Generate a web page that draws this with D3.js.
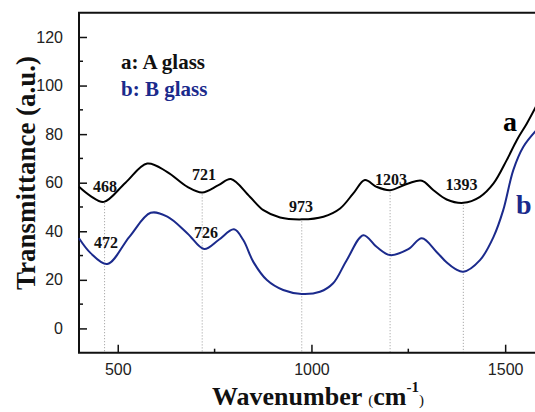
<!DOCTYPE html>
<html>
<head>
<meta charset="utf-8">
<script src="https://cdn.jsdelivr.net/npm/d3@7.9.0/dist/d3.min.js"></script>
<style>
  body { margin: 0; background: #fff; }
  svg { display: block; }
  .tick text { font-family: "Liberation Sans", Arial, sans-serif; font-size: 16px; fill: #222; }
  .serif { font-family: "Liberation Serif", "Times New Roman", serif; font-weight: bold; }
</style>
</head>
<body>
<svg width="535" height="412"></svg>
<script>
// sample A glass (curve a)
const waveA = [400, 430, 464, 520, 576, 627, 680, 718, 760, 792, 841, 876, 919, 975, 1031, 1074, 1108, 1138, 1168, 1203, 1250, 1285, 1315, 1349, 1392, 1435, 1470, 1504, 1530, 1556, 1580];
const transA = [58.3, 54.5, 52.1, 60, 67.9, 64.5, 58.3, 56, 59, 61.5, 54.2, 48.7, 45.7, 44.9, 46, 49.4, 55.6, 61.1, 58.3, 56.9, 59.7, 60.8, 56.9, 53.1, 51.7, 54.2, 59.7, 69.3, 77.5, 84.4, 91.5];
// sample B glass (curve b)
const waveB = [400, 430, 473, 530, 585, 628, 680, 723, 760, 800, 824, 850, 885, 927, 975, 1022, 1056, 1091, 1134, 1168, 1203, 1250, 1285, 1323, 1350, 1372, 1392, 1435, 1470, 1495, 1521, 1547, 1580];
const transB = [37.1, 31, 26.5, 37.7, 47.6, 46, 39.1, 32.7, 36.4, 40.8, 36.4, 27.4, 19.9, 15.8, 14.2, 15.1, 18.6, 28.1, 38.4, 33.6, 30.2, 32.6, 37.1, 31.5, 27, 24.4, 23.3, 28.1, 37.7, 48.7, 65.2, 74.8, 81.5];

// band labels
const bandA = ['468', '721', '973', '1203', '1393'];
const bandB = ['472', '726'];
const bandLines = [466, 718, 975, 1203, 1392];

const xTicks = [500, 1000, 1500];
const yTicks = [0, 20, 40, 60, 80, 100, 120];

const svg = d3.select('svg');
const blue = '#1b2a8c';

const x = d3.scaleLinear().domain([400, 1600]).range([79, 543.9]);
const y = d3.scaleLinear().domain([-10, 130]).range([352.7, 12.7]);

const seriesA = waveA.map((w, i) => [w, transA[i]]);
const seriesB = waveB.map((w, i) => [w, transB[i]]);

const line = d3.line()
    .x(d => x(d[0]))
    .y(d => y(d[1]))
    .curve(d3.curveCatmullRom.alpha(0.5));

// value of curve a at a wavenumber (for dotted line tops)
const aAt = d3.scaleLinear().domain(waveA).range(transA);

// dotted guide lines
svg.selectAll('.guide')
    .data(bandLines)
    .join('line')
    .attr('x1', d => x(d)).attr('x2', d => x(d))
    .attr('y1', d => y(aAt(d)) + 2)
    .attr('y2', y(-10))
    .attr('stroke', '#999')
    .attr('stroke-width', 1)
    .attr('stroke-dasharray', '1,2');

// axes
const xAxis = d3.axisBottom(x).tickValues(xTicks).tickSize(-8).tickPadding(11).tickFormat(d3.format('d'));
const gx = svg.append('g').attr('transform', `translate(0,${y(-10)})`).call(xAxis);
gx.select('.domain').remove();
gx.selectAll('.tick line').attr('stroke', '#111').attr('stroke-width', 1.5);
svg.append('g').attr('transform', `translate(0,${y(-10)})`)
  .selectAll('line').data([750, 1250]).join('line')
  .attr('x1', d => x(d)).attr('x2', d => x(d)).attr('y1', 0).attr('y2', -4)
  .attr('stroke', '#111').attr('stroke-width', 1.5);

const yAxis = d3.axisLeft(y).tickValues(yTicks).tickSize(-8).tickPadding(16);
const gy = svg.append('g').attr('transform', `translate(${x(400)},0)`).call(yAxis);
gy.select('.domain').remove();
gy.selectAll('.tick line').attr('stroke', '#111').attr('stroke-width', 1.5);
svg.append('g').attr('transform', `translate(${x(400)},0)`)
  .selectAll('line').data([10, 30, 50, 70, 90, 110]).join('line')
  .attr('y1', d => y(d)).attr('y2', d => y(d)).attr('x1', 0).attr('x2', 4)
  .attr('stroke', '#111').attr('stroke-width', 1.5);

// frame (left, bottom, top)
svg.append('path')
    .attr('d', `M535,${y(130)}H${x(400)}V${y(-10)}H535`)
    .attr('fill', 'none').attr('stroke', '#111').attr('stroke-width', 2);

// curves
svg.append('path').datum(seriesA).attr('d', line)
    .attr('fill', 'none').attr('stroke', '#000').attr('stroke-width', 2);
svg.append('path').datum(seriesB).attr('d', line)
    .attr('fill', 'none').attr('stroke', blue).attr('stroke-width', 2);

// band labels
const labelPosA = [[105, 191.5], [204, 180], [301, 212], [391, 185], [461.5, 190]];
const labelPosB = [[106, 248], [206, 238]];
svg.selectAll('.la').data(bandA).join('text')
    .attr('class', 'serif')
    .attr('x', (d, i) => labelPosA[i][0]).attr('y', (d, i) => labelPosA[i][1])
    .attr('text-anchor', 'middle').attr('font-size', 16).attr('fill', '#111')
    .text(d => d);
svg.selectAll('.lb').data(bandB).join('text')
    .attr('class', 'serif')
    .attr('x', (d, i) => labelPosB[i][0]).attr('y', (d, i) => labelPosB[i][1])
    .attr('text-anchor', 'middle').attr('font-size', 16).attr('fill', '#111')
    .text(d => d);

// legend
svg.append('text').attr('class', 'serif').attr('x', 121).attr('y', 69)
    .attr('font-size', 21).attr('fill', '#111').text('a: A glass');
svg.append('text').attr('class', 'serif').attr('x', 121).attr('y', 96)
    .attr('font-size', 21).attr('fill', blue).text('b: B glass');

// curve letters
svg.append('text').attr('class', 'serif').attr('x', 503).attr('y', 131)
    .attr('font-size', 28).attr('fill', '#000').text('a');
svg.append('text').attr('class', 'serif').attr('x', 516).attr('y', 214)
    .attr('font-size', 28).attr('fill', blue).text('b');

// axis titles
const xt = svg.append('text').attr('class', 'serif').attr('x', 212).attr('y', 405)
    .attr('font-size', 26).attr('fill', '#111');
xt.append('tspan').text('Wavenumber ');
xt.append('tspan').attr('font-size', 15).attr('font-weight', 'normal').text('(');
xt.append('tspan').text('cm');
xt.append('tspan').attr('font-size', 15).attr('dy', -13).text('-1');
xt.append('tspan').attr('font-size', 15).attr('font-weight', 'normal').attr('dy', 13).text(')');

svg.append('text').attr('class', 'serif')
    .attr('transform', 'translate(35,173) rotate(-90)')
    .attr('text-anchor', 'middle').attr('font-size', 27).attr('fill', '#111')
    .text('Transmittance (a.u.)');
</script>
</body>
</html>
